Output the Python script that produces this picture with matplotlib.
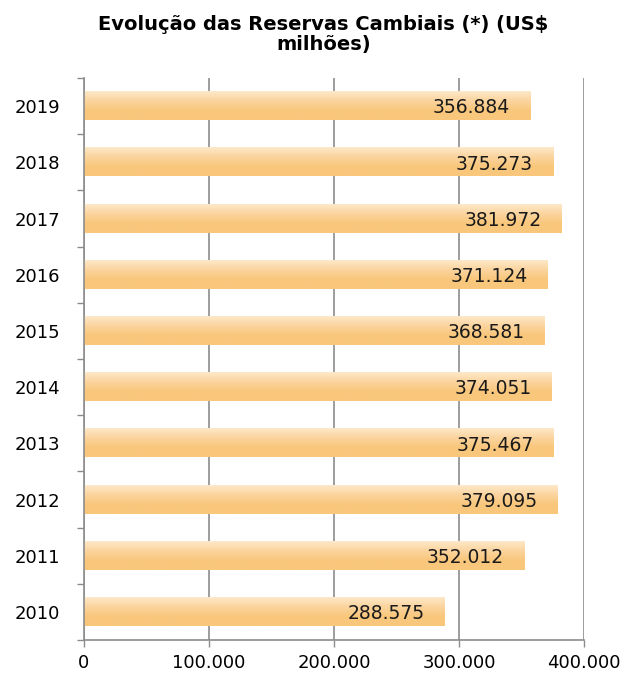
import matplotlib.pyplot as plt
import numpy as np
from matplotlib.colors import LinearSegmentedColormap

years = ["2010", "2011", "2012", "2013", "2014", "2015", "2016", "2017", "2018", "2019"]
reserves = [288575, 352012, 379095, 375467, 374051, 368581, 371124, 381972, 375273, 356884]
xticks = [0, 100000, 200000, 300000, 400000]

def fmt(v):
    return f"{v:,}".replace(",", ".")

fig = plt.figure(figsize=(6.22, 6.73), dpi=100)
ax = fig.add_axes([0.135, 0.049, 0.804, 0.835])

grey = '#8c8c8c'
ypos = np.arange(len(years))
bar_h = 0.5

# bars with a light-to-orange vertical gradient
cmap = LinearSegmentedColormap.from_list('bar', ['#fde8c8', '#fbd49e', '#f9c77c', '#f9c77c'])
grad = np.linspace(0, 1, 64).reshape(-1, 1)
for y, v in zip(ypos, reserves):
    ax.imshow(grad, cmap=cmap, aspect='auto', extent=(0, v, y - bar_h / 2, y + bar_h / 2),
              origin='upper', zorder=2, interpolation='bilinear')
    ax.text(v - 16000, y - 0.03, fmt(v), ha='right', va='center', fontsize=13.5, color='#1a1a1a', zorder=3)

ax.set_xlim(0, 400000)
ax.set_ylim(-0.5, len(years) - 0.5)

ax.set_yticks(ypos)
ax.set_yticklabels(years, fontsize=13)
ax.set_yticks(np.arange(-0.5, len(years), 1), minor=True)
ax.tick_params(axis='y', which='major', length=0, pad=17)
ax.tick_params(axis='y', which='minor', length=5, color=grey, width=1)

ax.set_xticks(xticks)
ax.set_xticklabels([fmt(t) for t in xticks], fontsize=13)
ax.tick_params(axis='x', length=5, color=grey, width=1, pad=5)

ax.grid(axis='x', color=grey, linewidth=1.2, zorder=1)
ax.set_axisbelow(True)
for s in ['top', 'right']:
    ax.spines[s].set_visible(False)
for s in ['left', 'bottom']:
    ax.spines[s].set_color(grey)
    ax.spines[s].set_linewidth(1.2)

fig.suptitle("Evolução das Reservas Cambiais (*) (US$\nmilhões)", fontsize=14, fontweight='bold',
             x=0.52, y=0.978, linespacing=1.08)

fig.savefig("out.png", dpi=100)
